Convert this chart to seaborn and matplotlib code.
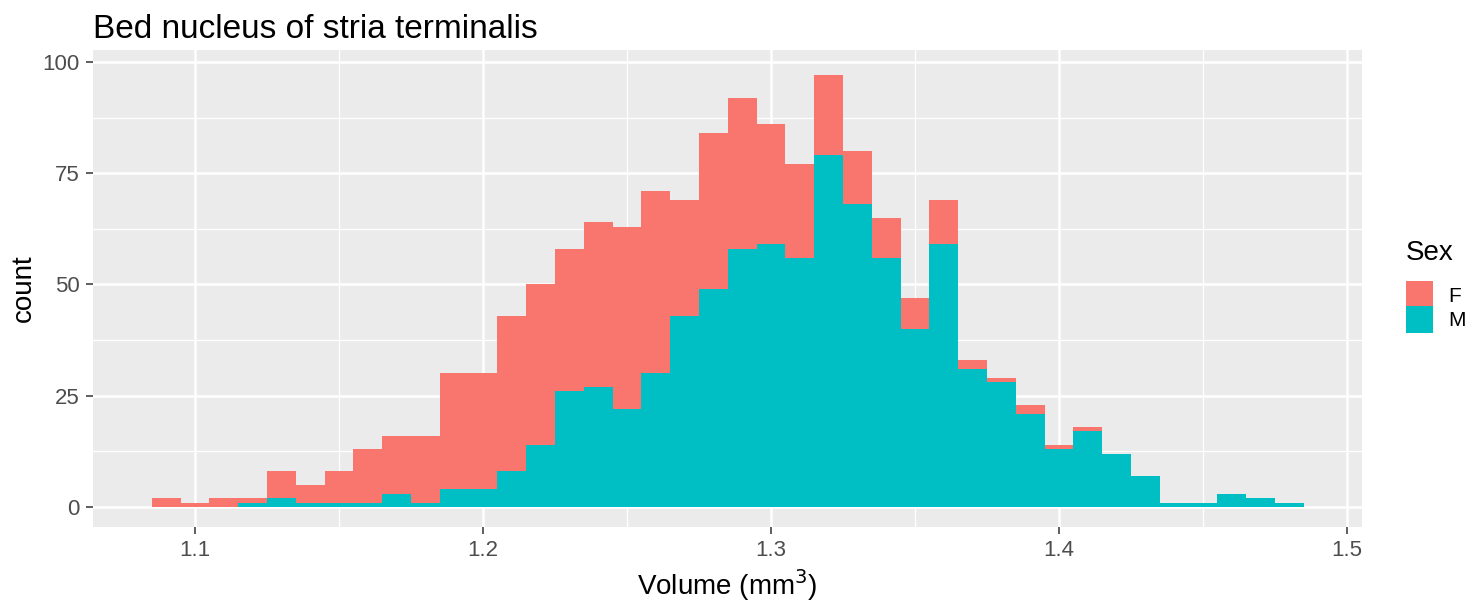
import numpy as np
import pandas as pd
import matplotlib
matplotlib.use("Agg")
import matplotlib.pyplot as plt
from matplotlib.patches import Patch, Rectangle
from matplotlib.legend_handler import HandlerPatch
import seaborn as sns

# 히스토그램 구간 (bin width 0.01, 1.085 ~ 1.485)
bin_start = 1.085
bin_width = 0.01
n_bins = 40

# 구간별 개수
f_counts = [2, 1, 2, 1, 6, 4, 7, 12, 13, 15,
            26, 26, 35, 36, 32, 37, 41, 41, 26, 35,
            34, 27, 21, 18, 12, 9, 7, 10, 2, 1,
            2, 1, 1, 0, 0, 0, 0, 0, 0, 0]
m_counts = [0, 0, 0, 1, 2, 1, 1, 1, 3, 1,
            4, 4, 8, 14, 26, 27, 22, 30, 43, 49,
            58, 59, 56, 79, 68, 56, 40, 59, 31, 28,
            21, 13, 17, 12, 7, 1, 1, 3, 2, 1]

sex_levels = ["F", "M"]
palette = {"F": "#F8766D", "M": "#00BFC4"}

centers = np.round(bin_start + bin_width * (np.arange(n_bins) + 0.5), 4)
bin_end = bin_start + bin_width * n_bins

df = pd.DataFrame({
    "Volume": np.concatenate([centers, centers]),
    "count": f_counts + m_counts,
    "Sex": ["F"] * n_bins + ["M"] * n_bins,
})

plt.rcParams["font.family"] = ["Liberation Sans", "DejaVu Sans"]

fig = plt.figure(figsize=(14.74, 6.02), dpi=100)
ax = fig.add_axes([93 / 1474, 1 - 527 / 602, (1362 - 93) / 1474, (527 - 50) / 602])

# ggplot 스타일 배경
ax.set_facecolor("#EBEBEB")
ax.set_axisbelow(True)

sns.histplot(data=df, x="Volume", weights="count", hue="Sex", hue_order=sex_levels,
             multiple="stack", binwidth=bin_width, binrange=(bin_start, bin_end),
             palette=palette, alpha=1, linewidth=0, legend=False, ax=ax)

ax.set_xlim(1.0646, 1.5052)
ax.set_ylim(-4.5, 102.7)
ax.set_xticks([1.1, 1.2, 1.3, 1.4, 1.5])
ax.set_xticklabels(["1.1", "1.2", "1.3", "1.4", "1.5"])
ax.set_yticks([0, 25, 50, 75, 100])
ax.set_xticks([1.15, 1.25, 1.35, 1.45], minor=True)
ax.set_yticks([12.5, 37.5, 62.5, 87.5], minor=True)
ax.grid(which="major", color="white", linewidth=1.8)
ax.grid(which="minor", color="white", linewidth=0.9)
ax.tick_params(which="major", length=5, width=1.1, color="#333333",
               labelsize=16, labelcolor="#4D4D4D", pad=4.5)
ax.tick_params(which="minor", length=0)
for s in ax.spines.values():
    s.set_visible(False)

ax.set_xlabel("Volume (mm$^3$)", fontsize=20, color="black", va="center")
ax.xaxis.set_label_coords(0.5, (527 - 585) / 477)
ax.set_ylabel("count", fontsize=20, color="black", va="center")
ax.yaxis.set_label_coords((23.5 - 93) / 1269, 0.5)

fig.text(93 / 1474, 1 - 38 / 602, "Bed nucleus of stria terminalis",
         fontsize=24, ha="left", va="baseline")

# 범례 키: 정사각형 (약 27px)
key_size = 19.4


def square_key(legend, orig_handle, xdescent, ydescent, width, height, fontsize):
    y0 = -ydescent + (height - key_size) / 2
    return Rectangle((-xdescent, y0), width, key_size)


handles = [Patch(facecolor=palette[s], edgecolor="none", label=s) for s in sex_levels]
leg = fig.legend(handles=handles, title="Sex", loc="upper left",
                 bbox_to_anchor=(1406 / 1474, 1 - 240 / 602), frameon=False,
                 borderpad=0, borderaxespad=0, fontsize=15, title_fontsize=20,
                 handlelength=1.3, handleheight=1.3,
                 labelspacing=0.09, handletextpad=0.75, alignment="left",
                 handler_map={Patch: HandlerPatch(patch_func=square_key)})
# 제목과 키 사이 간격
leg._legend_box.sep = 12.5

fig.savefig("out.png", dpi=100)
